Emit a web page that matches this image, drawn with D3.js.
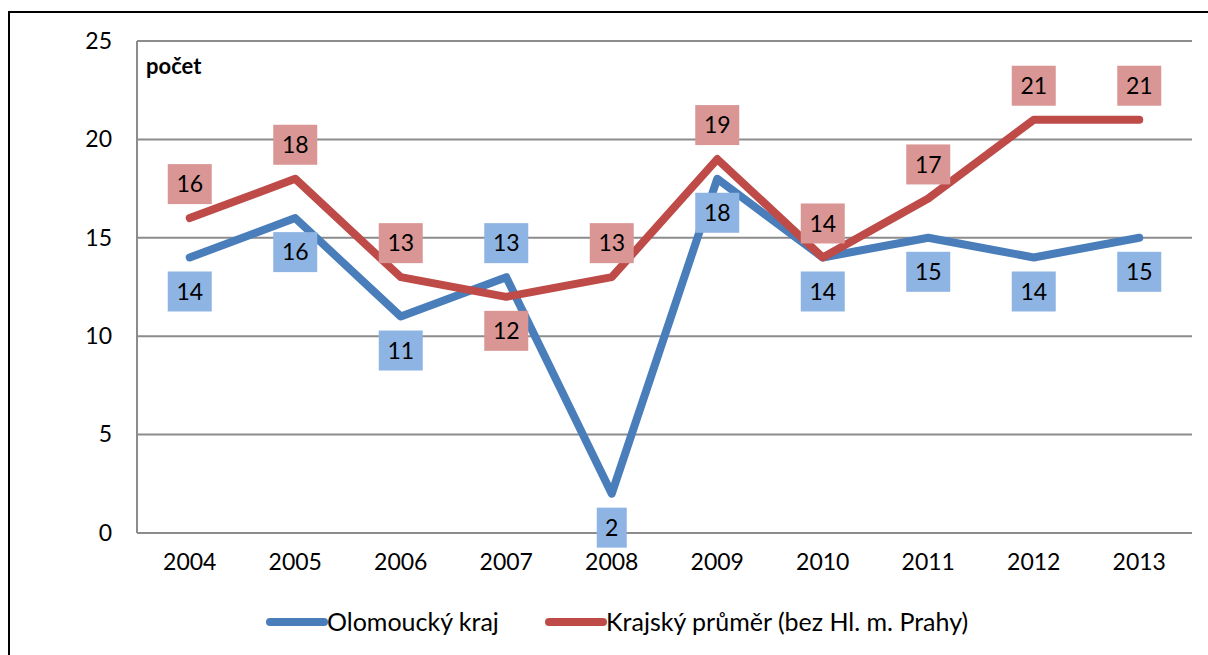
<!DOCTYPE html>
<html>
<head>
<meta charset="utf-8">
<script src="https://cdn.jsdelivr.net/npm/d3@7"></script>
<style>
body { margin: 0; background: #fff; }
svg { font-family: Lato, "Open Sans", sans-serif; }
</style>
</head>
<body>
<svg id="chart" width="1208" height="655"></svg>
<script>
var years = ["2004","2005","2006","2007","2008","2009","2010","2011","2012","2013"];
var olomoucky = [14,16,11,13,2,18,14,15,14,15];
var krajsky = [16,18,13,12,13,19,14,17,21,21];
// label position: 1 = above the point, -1 = below
var olomouckyLabelSide = [-1,-1,-1,1,-1,-1,-1,-1,-1,-1];
var krajskyLabelSide = [1,1,1,-1,1,1,1,1,1,1];
var yTicks = [0,5,10,15,20,25];
var seriesNames = ["Olomoucký kraj","Krajský průměr (bez Hl. m. Prahy)"];

var svg = d3.select("#chart");
var plotL = 137, plotR = 1192, plotT = 41, plotB = 533;

// outer frame
svg.append("rect")
  .attr("x", 9).attr("y", 12)
  .attr("width", 1230).attr("height", 700)
  .attr("fill", "none").attr("stroke", "#000").attr("stroke-width", 2);

var x = d3.scaleBand().domain(years).range([plotL, plotR]);
var y = d3.scaleLinear().domain([0, 25]).range([plotB, plotT]);

// gridlines
svg.selectAll(".grid").data(yTicks).enter().append("line")
  .attr("x1", plotL).attr("x2", plotR)
  .attr("y1", function(d){ return y(d); })
  .attr("y2", function(d){ return y(d); })
  .attr("stroke", "#8c8c8c").attr("stroke-width", 2);

svg.append("line")
  .attr("x1", plotL).attr("x2", plotL)
  .attr("y1", plotT).attr("y2", plotB)
  .attr("stroke", "#8c8c8c").attr("stroke-width", 2);

var yAxis = d3.axisLeft(y).tickValues(yTicks).tickSize(0).tickPadding(25);
svg.append("g").attr("transform", "translate(" + plotL + ",0)").call(yAxis)
  .call(function(g){ g.select(".domain").remove(); })
  .selectAll("text").attr("font-size", 23).attr("fill", "#000")
  .attr("font-family", "Lato, sans-serif");

var xAxis = d3.axisBottom(x).tickSize(0).tickPadding(21);
svg.append("g").attr("transform", "translate(0," + plotB + ")").call(xAxis)
  .call(function(g){ g.select(".domain").remove(); })
  .selectAll("text").attr("font-size", 23).attr("fill", "#000")
  .attr("font-family", "Lato, sans-serif");

svg.append("text").attr("x", 146).attr("y", 74)
  .attr("font-size", 22).attr("font-weight", "bold").text("počet");

var line = d3.line()
  .x(function(d, i){ return x(years[i]) + x.bandwidth() / 2; })
  .y(function(d){ return y(d); });

function drawSeries(vals, color) {
  svg.append("path").datum(vals)
    .attr("d", line)
    .attr("fill", "none").attr("stroke", color)
    .attr("stroke-width", 8)
    .attr("stroke-linecap", "round").attr("stroke-linejoin", "round");
}

function drawLabels(vals, sides, fill) {
  var g = svg.append("g");
  vals.forEach(function(v, i) {
    var cx = x(years[i]) + x.bandwidth() / 2;
    var cy = y(v) - sides[i] * 34;
    var w = v < 10 ? 30 : 44;
    g.append("rect").attr("x", cx - w / 2).attr("y", cy - 20)
      .attr("width", w).attr("height", 40).attr("fill", fill);
    g.append("text").attr("x", cx).attr("y", cy)
      .attr("dy", "0.36em").attr("text-anchor", "middle")
      .attr("font-size", 23).text(v);
  });
}

drawSeries(olomoucky, "#4a7ebb");
drawSeries(krajsky, "#be4b48");
drawLabels(olomoucky, olomouckyLabelSide, "#8eb4e3");
drawLabels(krajsky, krajskyLabelSide, "#d99694");

// legend
var legend = [
  { name: seriesNames[0], color: "#4a7ebb", x: 267 },
  { name: seriesNames[1], color: "#be4b48", x: 546 }
];
legend.forEach(function(l) {
  svg.append("line").attr("x1", l.x + 3).attr("x2", l.x + 57)
    .attr("y1", 622).attr("y2", 622)
    .attr("stroke", l.color).attr("stroke-width", 8).attr("stroke-linecap", "round");
  svg.append("text").attr("x", l.x + 60).attr("y", 622).attr("dy", "0.36em")
    .attr("font-size", 25).text(l.name);
});
</script>
</body>
</html>
